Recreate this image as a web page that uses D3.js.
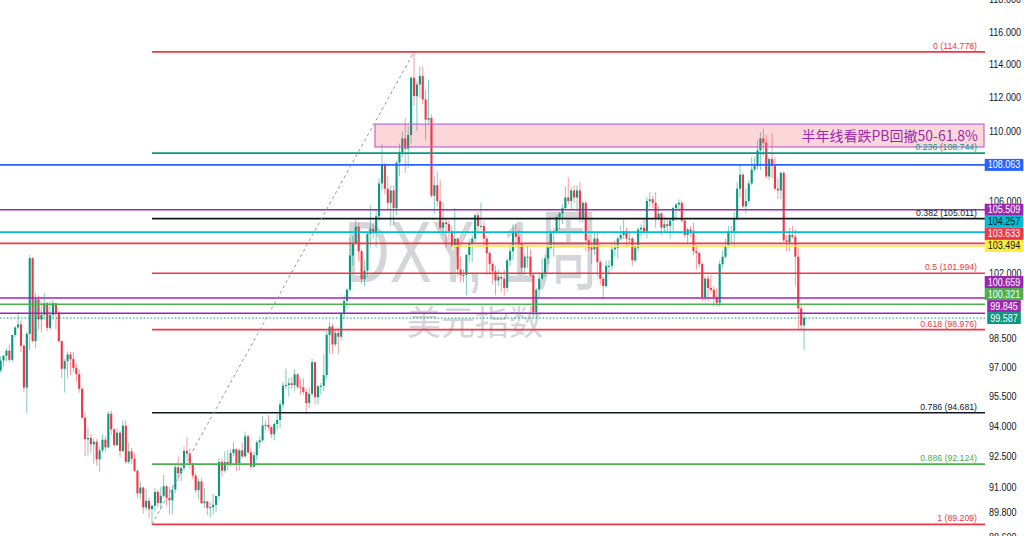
<!DOCTYPE html>
<html><head><meta charset="utf-8">
<script src="https://cdn.jsdelivr.net/npm/d3@7"></script>
<style>html,body{margin:0;padding:0;background:#fff;overflow:hidden}</style>
</head><body><svg id="c" width="1024" height="536"></svg>
<script>
// Weekly DXY candles, first week starting 2019-12-30 (index 0)
const firstWeek = "2019-12-30";
const opens = [
96.70,96.84,97.36,97.61,97.87,97.39,98.69,99.09,99.25,98.13,95.96,98.75,102.82,98.37,100.59,99.51,99.76,100.38,99.07,99.75,100.38,99.87,98.37,96.93,97.33,97.67,97.43,96.98,96.65,95.90,94.43,93.35,93.42,93.10,93.23,92.36,92.80,93.33,92.95,94.63,93.85,93.06,93.68,92.77,94.03,92.23,92.75,92.39,91.79,90.70,90.98,90.02,90.34,
89.94,90.10,90.77,90.23,90.58,91.04,90.48,90.36,90.88,91.97,91.67,91.93,92.78,92.64,92.16,91.56,90.85,91.28,90.22,90.31,90.00,90.03,90.14,90.57,92.23,91.80,92.23,92.13,92.67,92.86,92.17,92.80,92.50,93.50,92.70,92.00,92.56,93.20,93.30,94.04,94.07,93.96,93.60,94.12,94.32,95.10,96.06,96.09,96.18,96.09,96.64,96.00,
95.97,95.74,95.17,95.64,97.27,95.47,96.03,96.05,96.60,98.70,99.14,98.20,98.80,98.60,99.80,100.50,101.10,102.96,103.66,104.56,103.20,101.67,102.14,104.15,104.44,104.20,105.14,107.00,108.10,106.70,105.90,106.60,105.60,108.20,108.80,109.60,109.00,109.80,113.20,112.10,112.80,113.30,111.90,110.70,110.80,106.30,106.90,106.00,104.50,104.80,104.70,104.30,
103.50,103.90,102.20,101.90,101.90,103.00,103.60,103.90,105.20,104.60,104.60,103.90,103.10,102.50,102.10,101.60,101.80,101.70,101.20,102.70,103.20,104.20,104.00,103.60,102.30,102.90,102.90,101.90,99.90,101.10,101.70,102.00,102.80,103.40,104.20,104.30,105.10,105.30,105.60,106.20,106.00,106.60,106.20,106.60,105.00,105.90,103.80,103.40,103.30,103.90,102.60,101.70,
101.30,102.40,102.40,103.30,103.40,103.90,104.10,104.30,103.90,103.90,102.70,103.40,104.40,104.50,104.30,106.00,106.10,105.90,105.00,105.30,104.50,104.70,104.60,104.90,105.60,105.80,105.90,104.90,104.10,104.40,104.30,103.20,103.10,102.50,100.70,101.70,101.20,101.10,100.70,100.40,102.50,102.90,103.50,104.30,104.30,105.00,106.70,107.50,105.70,106.00,107.00,107.80,108.00,
108.90,109.60,109.35,107.40,108.40,108.00,106.70,106.60,107.60,103.80,103.70,104.10,104.00,102.90,100.10,99.20];
const highs = [
96.85,97.58,97.63,97.99,98.19,98.71,99.14,99.91,99.47,98.17,98.86,102.99,102.87,100.94,100.80,100.46,100.93,100.46,100.47,100.56,100.40,99.95,98.40,97.44,97.83,97.80,97.80,97.20,96.90,95.99,94.67,93.97,93.64,93.38,93.37,92.98,93.60,93.50,94.74,94.80,93.90,93.90,93.78,94.30,94.31,93.20,92.92,92.66,91.87,91.26,91.03,90.90,90.50,
90.14,90.95,90.87,91.00,91.60,91.10,91.00,91.00,92.10,92.50,92.10,93.00,93.44,92.90,92.17,91.70,91.40,91.43,90.96,90.32,90.28,90.68,90.60,92.41,92.40,92.74,92.83,92.85,93.20,92.90,92.90,93.20,93.73,93.60,92.90,92.73,93.30,93.50,94.50,94.30,94.56,94.00,94.20,94.60,95.30,96.26,96.94,96.45,96.50,96.90,96.70,96.40,
96.46,95.90,95.94,97.44,97.30,96.10,96.20,97.70,98.90,99.40,99.30,99.00,99.10,99.90,100.80,101.20,103.94,104.06,105.00,104.80,103.30,102.70,104.25,105.79,104.80,105.50,107.27,109.29,108.20,107.40,106.90,106.90,108.30,109.30,110.00,110.79,110.30,113.30,114.78,113.00,113.90,113.90,112.50,113.10,111.00,107.40,107.70,107.20,105.90,105.00,104.90,104.60,
105.60,103.95,102.90,102.20,103.05,103.90,104.10,105.30,105.40,105.90,104.90,104.00,103.20,102.60,102.40,102.20,102.00,102.20,102.80,103.60,104.70,104.70,104.40,103.70,103.00,103.50,103.30,102.00,101.20,102.00,102.80,103.00,103.60,104.40,104.45,105.20,105.40,105.80,106.80,107.35,106.80,106.90,106.90,107.10,106.00,106.00,103.90,103.60,104.30,104.30,102.70,101.80,
102.70,102.70,103.70,103.80,104.00,104.60,104.97,104.50,104.20,104.00,103.50,104.50,104.70,105.00,106.20,106.50,106.30,106.50,105.70,105.40,105.10,105.00,105.00,105.70,105.90,106.10,106.00,105.00,104.50,104.60,104.80,103.50,103.20,102.60,101.80,101.90,101.90,101.30,101.20,102.70,103.20,103.90,104.60,104.60,105.40,107.07,108.10,107.60,106.70,107.20,108.50,108.50,109.50,
109.97,110.18,109.80,108.50,109.90,108.50,107.30,107.70,107.70,104.10,104.50,104.60,104.40,103.40,100.30,99.90];
const lows = [
96.15,96.73,97.05,97.33,97.28,97.30,98.58,99.00,97.80,95.72,94.65,97.90,98.28,98.00,98.97,98.83,99.50,98.88,98.96,99.50,99.00,98.28,96.45,95.71,96.45,96.60,96.75,96.25,95.70,94.39,92.52,92.55,92.68,92.13,92.05,91.75,92.72,92.70,92.90,93.58,92.98,93.00,92.47,92.70,92.13,92.13,92.13,91.75,90.47,90.42,89.72,89.88,89.50,
89.21,89.82,90.04,89.91,90.47,90.10,89.68,89.68,90.71,91.30,91.30,91.80,92.40,91.90,91.40,90.70,90.40,90.20,89.99,89.65,89.53,89.66,89.80,90.40,91.50,91.70,91.80,92.00,92.50,91.80,91.80,92.40,92.45,92.60,91.90,91.94,92.30,92.90,93.20,93.80,93.80,93.40,93.30,93.80,93.90,94.90,95.90,95.50,95.90,95.80,95.90,95.60,
95.60,94.63,94.90,95.50,95.10,95.10,95.60,95.80,96.40,97.70,97.70,98.10,97.70,98.40,99.60,100.10,101.00,102.40,103.60,102.65,101.40,101.30,101.80,103.40,103.90,103.40,104.90,106.60,106.40,105.50,104.60,104.60,105.20,107.40,108.50,107.60,107.90,109.30,111.50,110.05,112.00,111.60,109.50,110.50,106.20,105.30,105.70,104.40,104.10,103.40,103.80,103.40,
103.40,101.80,101.50,101.50,100.80,102.60,102.60,103.70,104.30,104.40,103.40,101.90,101.90,101.40,100.80,101.30,101.00,100.80,101.00,102.40,102.70,103.40,103.40,102.00,101.90,102.30,101.80,99.60,99.60,100.60,101.60,101.80,102.50,103.30,102.90,104.20,104.40,104.70,105.50,105.80,105.50,105.90,105.40,104.80,104.80,103.20,103.20,102.50,103.00,101.80,101.40,100.60,
101.20,101.90,102.20,102.90,102.80,103.80,103.90,103.40,103.60,102.40,102.60,103.20,104.00,104.10,103.90,105.70,105.60,104.50,104.90,104.10,104.30,104.30,103.90,104.30,104.90,105.40,104.80,104.00,103.60,104.00,102.99,102.20,102.30,100.50,100.50,100.50,100.90,100.20,100.20,100.20,102.30,102.80,103.40,103.60,103.40,104.90,106.20,105.60,105.30,105.90,106.90,107.70,107.80,
107.75,108.60,107.30,107.20,107.30,106.60,106.10,106.10,103.70,103.20,103.20,103.90,101.30,99.00,99.00,97.90];
const closes = [
96.84,97.36,97.61,97.87,97.39,98.69,99.09,99.25,98.13,95.96,98.75,102.82,98.37,100.59,99.51,99.76,100.38,99.07,99.75,100.38,99.87,98.37,96.93,97.33,97.67,97.43,96.98,96.65,95.90,94.43,93.35,93.42,93.10,93.23,92.36,92.80,93.33,92.95,94.63,93.85,93.06,93.68,92.77,94.03,92.23,92.75,92.39,91.79,90.70,90.98,90.02,90.34,89.94,
90.10,90.77,90.23,90.58,91.04,90.48,90.36,90.88,91.97,91.67,91.93,92.78,92.64,92.16,91.56,90.85,91.28,90.22,90.31,90.00,90.03,90.14,90.57,92.23,91.80,92.23,92.13,92.67,92.86,92.17,92.80,92.50,93.50,92.70,92.00,92.56,93.20,93.30,94.04,94.07,93.96,93.60,94.12,94.32,95.10,96.06,96.09,96.18,96.09,96.64,96.00,95.97,
95.74,95.17,95.64,97.27,95.47,96.03,96.05,96.60,98.70,99.14,98.20,98.80,98.60,99.80,100.50,101.10,102.96,103.66,104.56,103.20,101.67,102.14,104.15,104.44,104.20,105.14,107.00,108.10,106.70,105.90,106.60,105.60,108.20,108.80,109.60,109.00,109.80,113.20,112.10,112.80,113.30,111.90,110.70,110.80,106.30,106.90,106.00,104.50,104.80,104.70,104.30,103.50,
103.90,102.20,101.90,101.90,103.00,103.60,103.90,105.20,104.60,104.60,103.90,103.10,102.50,102.10,101.60,101.80,101.70,101.20,102.70,103.20,104.20,104.00,103.60,102.30,102.90,102.90,101.90,99.90,101.10,101.70,102.00,102.80,103.40,104.20,104.30,105.10,105.30,105.60,106.20,106.00,106.60,106.20,106.60,105.00,105.90,103.80,103.40,103.30,103.90,102.60,101.70,101.30,
102.40,102.40,103.30,103.40,103.90,104.10,104.30,103.90,103.90,102.70,103.40,104.40,104.50,104.30,106.00,106.10,105.90,105.00,105.30,104.50,104.70,104.60,104.90,105.60,105.80,105.90,104.90,104.10,104.40,104.30,103.20,103.10,102.50,100.70,101.70,101.20,101.10,100.70,100.40,102.50,102.90,103.50,104.30,104.30,105.00,106.70,107.50,105.70,106.00,107.00,107.80,108.00,108.90,
109.60,109.35,107.40,108.40,108.00,106.70,106.60,107.60,103.80,103.70,104.10,104.00,102.90,100.10,99.20,99.59];

// Right price axis (labels visible in the reference; 108/104/100 sit under price badges)
const tickValues = [118,116,114,112,110,106,102,98.5,97,95.5,94,92.5,91,89.8,88.6];

// Fibonacci retracement (anchored from the 2021 low week to the 2022 high week)
const fibAnchorIdx = [53, 143];
const fibRatios = [0, 0.236, 0.382, 0.5, 0.618, 0.786, 0.886, 1];
const fibPrices = [114.778, 108.744, 105.011, 101.994, 98.976, 94.681, 92.124, 89.209];
const fibColors = ["#f23645","#089981","#131722","#f23645","#f23645","#131722","#4caf50","#f23645"];

// Horizontal levels with price badges
const levelPrices = [108.063, 105.509, 104.257, 103.633, 103.494, 100.659, 100.321, 99.845, 99.587];
const levelColors = ["#2962ff","#9c27b0","#00bcd4","#f23645","#ffeb3b","#9c27b0","#4caf50","#9c27b0","#089981"];
const levelTextColors = ["#fff","#fff","#131722","#fff","#131722","#fff","#fff","#fff","#fff"];
const levelStartIdx = [null, null, null, null, 156, null, null, null, null];
const levelDash = [null, null, null, null, null, null, null, null, "1.5,2"];

// Resistance zone
const zoneStartIdx = [129.6];
const zonePrices = [110.44, 109.10];
const zoneLabel = "半年线看跌PB回撤50-61.8%";

const watermarkTitle = "DXY, 1周";
const watermarkSub = "美元指数";

// ---------- drawing ----------
const W = 1024, H = 536, plotRight = 985;
const svg = d3.select("#c");
const x = d3.scaleLinear().domain(fibAnchorIdx).range([152, 414]);
const y = d3.scaleLog().domain([116, 89.8]).range([32, 512]);
const step = x(1) - x(0);
const FONT = "'Liberation Sans', Arial, 'Noto Sans CJK SC', sans-serif";

svg.append("rect").attr("width", W).attr("height", H).attr("fill", "#fff");
svg.append("defs").append("clipPath").attr("id", "plot")
  .append("rect").attr("x", 0).attr("y", 0).attr("width", plotRight).attr("height", H);

// watermark
const wm = svg.append("g").attr("fill", "#d4d5d9").style("font-family", FONT);
wm.append("text").attr("transform", "translate(472,282) scale(0.72,1)")
  .attr("text-anchor", "middle").attr("font-size", 88).text(watermarkTitle);
wm.append("text").attr("transform", "translate(475,335)")
  .attr("text-anchor", "middle").attr("font-size", 34)
  .style("font-family", "'Noto Sans CJK SC', sans-serif").text(watermarkSub);

const plot = svg.append("g").attr("clip-path", "url(#plot)");

// candles
const candles = closes.map((c, i) => ({ i, o: opens[i], h: highs[i], l: lows[i], c }));
const cg = plot.append("g");
const col = d => d.c >= d.o ? "#089981" : "#f23645";
cg.selectAll("line.wick").data(candles).join("line").attr("class", "wick")
  .attr("x1", d => x(d.i)).attr("x2", d => x(d.i))
  .attr("y1", d => y(d.h)).attr("y2", d => y(d.l))
  .attr("stroke", col).attr("stroke-opacity", 0.5).attr("stroke-width", 1);
const bw = step * 0.72;
cg.selectAll("rect.body").data(candles).join("rect").attr("class", "body")
  .attr("x", d => x(d.i) - bw / 2).attr("width", bw)
  .attr("y", d => y(Math.max(d.o, d.c)))
  .attr("height", d => Math.max(1, Math.abs(y(d.o) - y(d.c))))
  .attr("fill", col);

// zone
plot.append("rect")
  .attr("x", x(zoneStartIdx[0])).attr("width", plotRight - x(zoneStartIdx[0]) - 1)
  .attr("y", y(zonePrices[0])).attr("height", y(zonePrices[1]) - y(zonePrices[0]))
  .attr("fill", "rgba(242,54,69,0.2)").attr("stroke", "#ba68c8").attr("stroke-width", 1.2);

// horizontal levels
const levels = levelPrices.map((p, k) => ({ p, k }));
plot.selectAll("line.lvl").data(levels).join("line").attr("class", "lvl")
  .attr("x1", d => levelStartIdx[d.k] == null ? 0 : x(levelStartIdx[d.k]))
  .attr("x2", plotRight)
  .attr("y1", d => y(d.p)).attr("y2", d => y(d.p))
  .attr("stroke", d => levelColors[d.k])
  .attr("stroke-width", d => levelDash[d.k] ? 1 : 1.6)
  .attr("stroke-dasharray", d => levelDash[d.k]);

// fib lines
const fibs = fibPrices.map((p, k) => ({ p, r: fibRatios[k], k }));
plot.selectAll("line.fib").data(fibs).join("line").attr("class", "fib")
  .attr("x1", x(fibAnchorIdx[0])).attr("x2", plotRight)
  .attr("y1", d => y(d.p)).attr("y2", d => y(d.p))
  .attr("stroke", d => fibColors[d.k]).attr("stroke-width", 1.6);

// trend (dashed) line
plot.append("line")
  .attr("x1", x(fibAnchorIdx[0])).attr("y1", y(fibPrices[fibPrices.length - 1]))
  .attr("x2", x(fibAnchorIdx[1])).attr("y2", y(fibPrices[0]))
  .attr("stroke", "#9598a1").attr("stroke-width", 1).attr("stroke-dasharray", "3,3");

// fib labels
svg.append("g").style("font-family", FONT).selectAll("text").data(fibs).join("text")
  .attr("transform", d => `translate(977,${y(d.p) - 3}) scale(0.92,1)`)
  .attr("text-anchor", "end").attr("font-size", 9.5)
  .attr("fill", d => fibColors[d.k])
  .text(d => `${d.r} (${d3.format(".3f")(d.p)})`);

// zone label
svg.append("text")
  .attr("x", 978).attr("y", (y(zonePrices[0]) + y(zonePrices[1])) / 2 + 5)
  .attr("text-anchor", "end").attr("font-size", 14).attr("fill", "#9c27b0")
  .style("font-family", "'Noto Sans CJK SC', sans-serif").text(zoneLabel);

// axis tick labels
const ax = svg.append("g").style("font-family", FONT);
ax.selectAll("text").data(tickValues).join("text")
  .attr("transform", d => `translate(989,${y(d) + 3.5}) scale(0.86,1)`)
  .attr("font-size", 10.5).attr("fill", "#131722")
  .text(d => d3.format(".3f")(d));

// price badges (stacked upward to avoid overlap)
const stacked = levels.map(d => ({ ...d, yl: y(d.p) })).sort((a, b) => b.yl - a.yl);
let prev = Infinity;
stacked.forEach(d => { d.yb = Math.min(d.yl, prev - 12); prev = d.yb; });
const bg = svg.append("g").style("font-family", FONT);
stacked.forEach(d => {
  const g = bg.append("g");
  const t = g.append("text")
    .attr("transform", `translate(1004,${d.yb + 3.6}) scale(0.86,1)`)
    .attr("text-anchor", "middle").attr("font-size", 10.5)
    .attr("fill", levelTextColors[d.k]).text(d3.format(".3f")(d.p));
  const w = t.node().getComputedTextLength() * 0.86 + 6;
  g.insert("rect", "text").attr("x", 1004 - w / 2).attr("width", w)
    .attr("y", d.yb - 6).attr("height", 12).attr("fill", levelColors[d.k]);
});
</script></body></html>
